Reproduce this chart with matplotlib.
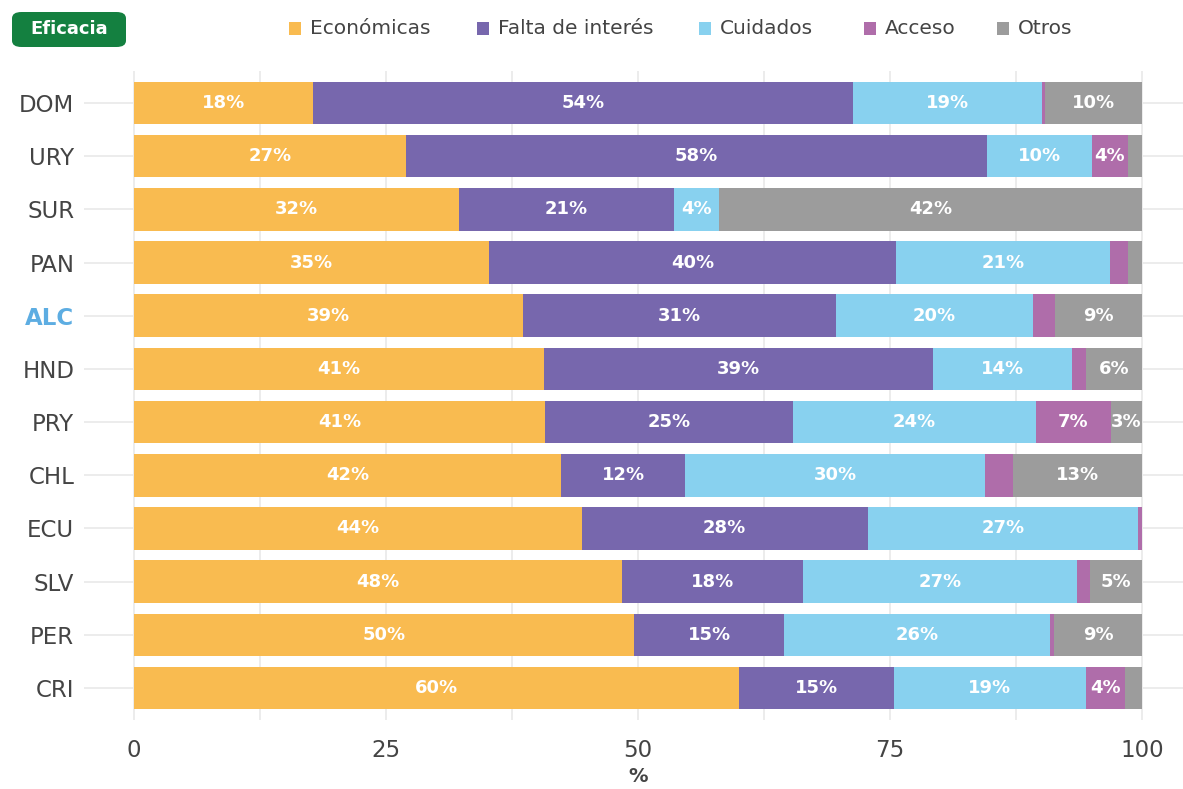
import matplotlib.pyplot as plt
from matplotlib.patches import FancyBboxPatch, Rectangle
import numpy as np

# Razones de no asistencia por país (porcentaje de cada motivo)
countries = ['DOM', 'URY', 'SUR', 'PAN', 'ALC', 'HND', 'PRY', 'CHL', 'ECU', 'SLV', 'PER', 'CRI']
economicas = [17.8, 27.0, 32.2, 35.2, 38.6, 40.7, 40.8, 42.4, 44.4, 48.4, 49.6, 60.0]
falta_interes = [53.5, 57.6, 21.4, 40.4, 31.0, 38.6, 24.6, 12.3, 28.4, 18.0, 14.9, 15.4]
cuidados = [18.8, 10.4, 4.4, 21.2, 19.6, 13.8, 24.1, 29.7, 26.8, 27.2, 26.4, 19.0]
acceso = [0.3, 3.6, 0.0, 1.8, 2.2, 1.3, 7.4, 2.8, 0.4, 1.2, 0.4, 3.9]
otros = [9.6, 1.4, 42.0, 1.4, 8.6, 5.6, 3.1, 12.8, 0.0, 5.2, 8.7, 1.7]

series_names = ['Económicas', 'Falta de interés', 'Cuidados', 'Acceso', 'Otros']
series_values = [economicas, falta_interes, cuidados, acceso, otros]
colors = ['#F9BB50', '#7767AD', '#88D1EF', '#AF6DAA', '#9C9C9C']

x_ticks = [0, 25, 50, 75, 100]
highlight = 'ALC'

plt.rcParams['font.family'] = ['DejaVu Sans']

W, H = 1183, 789
fig = plt.figure(figsize=(W / 100, H / 100), dpi=100)
ax = fig.add_axes([84 / W, 69 / H, 1 - 84 / W, 649 / H])

n = len(countries)
y = np.arange(n)[::-1]  # DOM arriba

# grilla de fondo
for yy in y:
    ax.axhline(yy, color='#EBEBEB', lw=1.3, zorder=0)
for xx in np.arange(0, 100.1, 12.5):
    ax.axvline(xx, color='#EBEBEB', lw=1.3, zorder=0)

left = np.zeros(n)
for name, vals, col in zip(series_names, series_values, colors):
    vals = np.array(vals)
    ax.barh(y, vals, left=left, height=0.8, color=col, zorder=2)
    for yy, l, v in zip(y, left, vals):
        if v >= 3:
            ax.text(l + v / 2, yy, f'{v:.0f}%', ha='center', va='center',
                    color='white', fontsize=13, fontweight='bold', zorder=3)
    left += vals

ax.set_xlim(-4.96, 104.07)
ax.set_ylim(-0.6, n - 0.4)
ax.set_xticks(x_ticks)
ax.set_xticklabels([str(t) for t in x_ticks])
ax.set_yticks(y)
ax.set_yticklabels(countries)
ax.tick_params(axis='both', length=0, labelsize=16.5, colors='#444444')
ax.tick_params(axis='x', pad=14)
ax.tick_params(axis='y', pad=7)
for lbl in ax.get_yticklabels():
    if lbl.get_text() == highlight:
        lbl.set_color('#5DADE2')
        lbl.set_fontweight('bold')
for s in ax.spines.values():
    s.set_visible(False)

# título del eje x
ax.text(50, -0.072, '%', transform=ax.get_xaxis_transform(), ha='center', va='top',
        fontsize=14, fontweight='bold', color='#444444')

# etiqueta "Eficacia"
badge = FancyBboxPatch((12 / W, 1 - 47 / H), 114 / W, 35 / H,
                       boxstyle='round,pad=0,rounding_size=0.008',
                       transform=fig.transFigure, facecolor='#148040',
                       edgecolor='none')
fig.patches.append(badge)
fig.text(69 / W, 1 - 29.5 / H, 'Eficacia', ha='center', va='center',
         color='white', fontsize=13, fontweight='bold')

# leyenda
sq_x = [289, 477, 699, 864, 997]
for name, col, sx in zip(series_names, colors, sq_x):
    fig.patches.append(Rectangle((sx / W, 1 - 35 / H), 12 / W, 13 / H,
                                 transform=fig.transFigure, facecolor=col,
                                 edgecolor='none'))
    fig.text((sx + 21) / W, 1 - 28.5 / H, name, ha='left', va='center',
             fontsize=14.5, color='#444444')

fig.savefig('out.png', dpi=100)
